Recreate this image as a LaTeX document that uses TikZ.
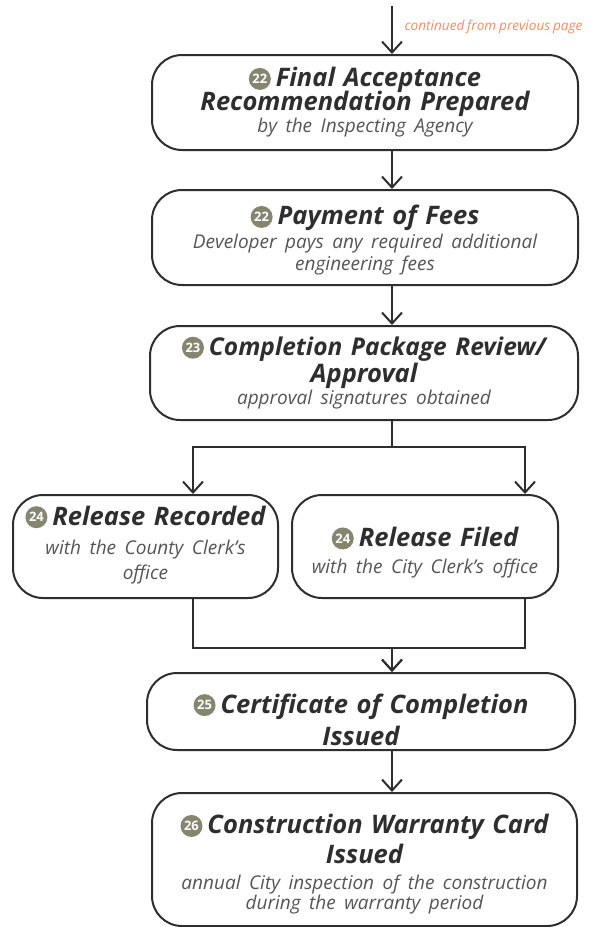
\documentclass[tikz,border=0pt]{standalone}
\usepackage{fontspec}
\setmainfont{Open Sans}[WordSpace=0.8]
\usetikzlibrary{arrows.meta,calc}
\definecolor{linegray}{HTML}{2E2E2E}
\definecolor{subgray}{HTML}{555555}
\definecolor{badgegray}{HTML}{86856F}
\definecolor{noteorange}{HTML}{F58B66}
\tikzset{
  |-|/.style={
    to path={
      (\tikztostart) |- ($(\tikztostart)!#1!(\tikztotarget)$) -| (\tikztotarget)
      \tikztonodes
    }
  },
  |-|/.default=0.5,
}
\newcommand{\ttl}{\fontsize{25.5}{22}\selectfont\lineskiplimit=-30pt\lineskip=0pt
  \bfseries\itshape\color{linegray}}
\newcommand{\sbt}{\fontsize{19}{22}\selectfont\mdseries\itshape\color{subgray}}
\newcommand{\padtop}[1]{\rule{0pt}{#1}}
\newcommand{\padbot}[1]{\rule[-#1]{0pt}{#1}}
\newcommand{\stepno}[1]{%
  \tikz[baseline={([yshift=-8pt]no.center)}]
    \node[circle, fill=badgegray, inner sep=0pt, minimum size=22pt, text=white,
          font=\fontsize{13}{13}\selectfont\bfseries\upshape] (no) {#1};%
  \hspace{5pt}}

\begin{document}
\begin{tikzpicture}
  [
    x=1pt, y=-1pt,
    stepbox/.style =
      {draw=linegray, line width=2pt, rounded corners=30pt, align=center,
       inner sep=0pt, font=\ttl},
    flow/.style =
      {draw=linegray, line width=2pt},
    >={Straight Barb[length=11pt,width=20pt]}
  ]
  \useasboundingbox (0,0) rectangle (597,927);

  \coordinate (start) at (392,6);
  \coordinate (spine) at (392,0);
  \coordinate (lbr)   at (193,0);
  \coordinate (rbr)   at (525,0);

  \node [text=noteorange, anchor=west, font=\fontsize{13.6}{14}\selectfont\itshape]
    at (401,27) (note) {continued from previous page};

  \node [stepbox, minimum width=426pt, minimum height=95pt, text width=416pt]
    at (365,102.5) (accept)
    {\stepno{22}Final Acceptance\\[2pt]Recommendation Prepared\\
     {\sbt by the Inspecting Agency}};
  \node [stepbox, minimum width=426pt, minimum height=95pt, text width=416pt]
    at (365,237.5) (fees)
    {\padtop{25.5pt}\stepno{22}Payment of Fees\\[2pt]
     {\sbt Developer pays any required additional}\\{\sbt engineering fees}};
  \node [stepbox, minimum width=428pt, minimum height=94pt, text width=416pt]
    at (364,373) (review)
    {\stepno{23}{\fontsize{24.5}{22}\selectfont Completion Package Review/}\\[5pt]Approval\\
     {\sbt approval signatures obtained}};
  \node [stepbox, minimum width=265pt, minimum height=103pt, text width=258pt]
    at (145.5,546.5) (recorded)
    {\stepno{24}Release Recorded\\[7pt]
     {\sbt with the County Clerk’s}\\[3pt]{\sbt office\padbot{8pt}}};
  \node [stepbox, minimum width=266pt, minimum height=103pt, text width=258pt]
    at (425,546.5) (filed)
    {\padtop{31.5pt}\stepno{24}Release Filed\\[5pt]
     {\sbt with the City Clerk’s office}};
  \node [stepbox, minimum width=428pt, minimum height=77pt, text width=416pt]
    at (361,711.5) (cert)
    {\padtop{35.5pt}\stepno{25}Certificate of Completion\\[10pt]Issued};
  \node [stepbox, minimum width=425pt, minimum height=133pt, text width=416pt]
    at (364.5,859.5) (warranty)
    {\padtop{29.5pt}\stepno{26}Construction Warranty Card\\[8pt]Issued\\[4pt]
     {\sbt annual City inspection of the construction}\\[-2pt]
     {\sbt during the warranty period}};

  \draw[flow, ->] (start)                  -- (accept.north -| start);
  \draw[flow, ->] (accept.south -| spine)  -- (fees.north -| spine);
  \draw[flow, ->] (fees.south -| spine)    -- (review.north -| spine);
  \draw[flow, ->] (review.south -| spine)   to[|-|=0.35]  (recorded.north -| lbr);
  \draw[flow, ->] (review.south -| spine)   to[|-|=0.35]  (filed.north -| rbr);
  \draw[flow, ->] (recorded.south -| lbr)   to[|-|=0.667] (cert.north -| spine);
  \draw[flow, ->] (filed.south -| rbr)      to[|-|=0.667] (cert.north -| spine);
  \draw[flow, ->] (cert.south -| spine)    -- (warranty.north -| spine);

\end{tikzpicture}
\end{document}
